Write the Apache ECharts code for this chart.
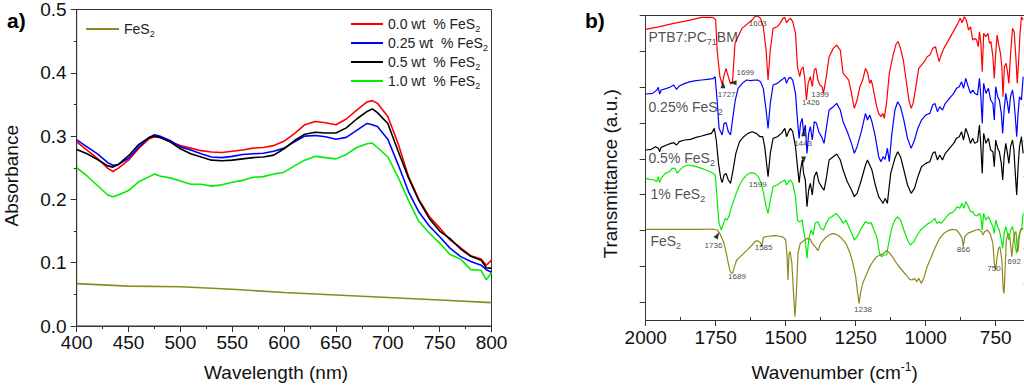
<!DOCTYPE html>
<html><head><meta charset="utf-8">
<script src="https://cdn.jsdelivr.net/npm/echarts@6/dist/echarts.min.js"></script>
<style>html,body{margin:0;padding:0;background:#fff}#c{width:1024px;height:387px}</style>
</head><body><div id="c"></div>
<script>
// ---------- Panel a) UV-vis absorbance ----------
const wavelength = [400,410,420,430,435,440,450,460,470,475,480,490,500,510,520,530,540,550,560,570,580,590,600,610,620,630,640,650,660,670,680,685,690,700,710,720,730,740,750,760,770,780,790,795,800];
const abs00 = [.291,.278,.265,.249,.244,.249,.262,.281,.296,.299,.298,.291,.285,.281,.277,.275,.274,.276,.278,.281,.282,.285,.292,.304,.318,.323,.321,.318,.327,.341,.354,.356,.352,.331,.288,.236,.200,.173,.155,.136,.124,.111,.106,.096,.104];
const abs025 = [.294,.283,.272,.258,.254,.255,.265,.283,.298,.302,.300,.293,.283,.278,.272,.267,.266,.268,.271,.272,.273,.276,.281,.291,.300,.301,.299,.295,.298,.309,.320,.318,.315,.295,.255,.212,.180,.158,.141,.123,.110,.102,.096,.089,.085];
const abs05 = [.279,.272,.263,.253,.251,.255,.269,.287,.298,.300,.298,.291,.280,.272,.267,.262,.261,.262,.264,.266,.267,.270,.280,.293,.303,.306,.305,.305,.313,.327,.339,.343,.337,.320,.276,.234,.198,.170,.150,.138,.122,.110,.104,.092,.091];
const abs10 = [.250,.237,.222,.207,.204,.207,.214,.228,.236,.240,.237,.234,.229,.224,.224,.221,.223,.227,.230,.235,.236,.240,.243,.253,.262,.268,.266,.264,.271,.282,.288,.289,.282,.267,.235,.198,.165,.147,.131,.113,.106,.089,.088,.073,.084];
const fes2Wavelength = [400,450,500,550,600,650,700,750,800];
const fes2Abs = [.067,.063,.062,.058,.053,.049,.045,.041,.037];
const absNames = ['0.0 wt  % FeS₂','0.25 wt  % FeS₂','0.5 wt  % FeS₂','1.0 wt  % FeS₂'];
const absColors = ['#ff0000','#0000ff','#000000','#00ee00'];
const fes2Name = 'FeS₂';
const fes2Color = '#8c8a1e';

// ---------- Panel b) FTIR transmittance (a.u., offset curves) : [wavenumber, T] ----------
const ftirPTB7 = [[2000,87.2],[1950,88.0],[1900,89.0],[1850,89.8],[1800,90.8],[1760,90.8],[1750,90.0],[1745,81.0],[1735,73.0],[1727,70.8],[1720,73.5],[1713,75.5],[1705,73.0],[1697,70.8],[1690,71.5],[1681,83.0],[1656,87.5],[1620,90.0],[1610,91.0],[1600,91.2],[1590,90.5],[1580,88.0],[1570,81.0],[1563,72.0],[1555,81.0],[1545,87.5],[1530,88.0],[1520,89.0],[1510,90.5],[1503,90.8],[1497,89.2],[1490,90.0],[1483,90.5],[1475,89.5],[1465,86.0],[1458,76.0],[1450,73.0],[1445,75.0],[1438,76.0],[1432,72.5],[1426,66.0],[1420,71.0],[1412,73.0],[1405,70.0],[1398,75.0],[1392,75.5],[1385,72.0],[1378,70.5],[1370,70.0],[1365,68.0],[1355,73.0],[1345,79.0],[1330,81.5],[1318,82.5],[1305,81.0],[1295,74.0],[1285,73.0],[1275,72.0],[1265,68.0],[1255,63.5],[1245,66.0],[1235,70.0],[1225,72.0],[1215,75.5],[1207,74.0],[1200,71.0],[1195,72.0],[1190,70.5],[1182,67.0],[1175,64.0],[1168,62.0],[1160,61.0],[1153,62.0],[1148,60.5],[1140,65.0],[1130,74.0],[1115,80.0],[1105,83.0],[1098,83.5],[1090,81.5],[1080,78.0],[1070,72.0],[1060,66.0],[1052,63.5],[1045,65.0],[1035,70.0],[1025,75.5],[1015,76.5],[1005,77.5],[995,79.0],[985,79.5],[975,81.5],[965,82.0],[958,79.5],[952,77.5],[945,79.5],[935,81.5],[925,83.0],[915,84.5],[905,86.0],[895,87.5],[885,89.0],[877,90.5],[870,89.2],[862,91.0],[855,90.0],[847,87.0],[840,88.0],[832,84.0],[825,84.5],[818,84.0],[812,82.0],[808,86.5],[803,83.0],[798,74.5],[793,86.0],[785,85.0],[778,86.0],[772,83.0],[767,83.5],[760,79.0],[755,72.5],[750,80.0],[745,85.5],[738,82.0],[733,80.0],[728,76.0],[724,67.0],[719,76.0],[713,77.0],[707,74.0],[703,71.0],[697,79.5],[690,87.5],[684,86.5],[678,79.0],[673,71.0],[668,78.0],[663,86.0],[658,91.0],[652,90.0]];
const ftir025 = [[2000,67.8],[1975,68.0],[1960,69.0],[1955,69.8],[1950,67.8],[1945,69.0],[1925,69.5],[1910,70.0],[1900,70.5],[1890,69.2],[1880,70.2],[1860,71.0],[1840,71.5],[1820,71.8],[1800,72.0],[1780,72.2],[1760,72.4],[1752,73.0],[1745,66.0],[1738,57.5],[1727,55.5],[1720,59.0],[1713,59.2],[1705,56.5],[1697,55.5],[1690,60.0],[1680,66.0],[1670,69.5],[1655,71.0],[1640,72.0],[1625,71.8],[1610,72.0],[1600,72.0],[1590,71.5],[1580,69.5],[1570,63.0],[1563,57.5],[1555,65.0],[1545,70.5],[1530,71.0],[1515,72.0],[1503,72.8],[1497,71.0],[1490,72.5],[1483,72.8],[1475,72.0],[1465,68.0],[1458,60.0],[1452,54.5],[1447,59.0],[1441,60.5],[1436,56.0],[1430,58.5],[1424,50.0],[1418,56.0],[1412,58.0],[1405,54.0],[1398,59.5],[1390,59.0],[1382,56.5],[1372,55.0],[1363,53.0],[1355,57.5],[1345,63.0],[1330,64.0],[1318,65.0],[1305,63.0],[1295,59.5],[1280,56.5],[1265,53.0],[1255,50.0],[1245,52.0],[1230,56.5],[1215,62.0],[1208,60.0],[1200,61.5],[1192,59.5],[1180,55.0],[1168,49.0],[1160,47.5],[1152,49.0],[1145,48.2],[1137,51.5],[1130,47.5],[1122,55.0],[1110,63.0],[1100,65.5],[1090,64.0],[1078,60.0],[1065,54.5],[1052,51.5],[1040,54.0],[1028,57.5],[1015,60.0],[1000,61.5],[985,62.0],[975,64.5],[967,65.0],[958,62.5],[950,64.0],[940,63.0],[930,65.0],[920,66.0],[910,67.0],[900,68.0],[890,69.5],[880,70.0],[872,71.5],[865,69.5],[857,72.5],[850,70.5],[840,68.0],[832,69.0],[825,68.0],[815,67.5],[808,72.5],[803,67.0],[798,59.0],[793,71.0],[785,68.0],[776,69.5],[768,66.0],[760,65.0],[755,60.0],[750,70.0],[743,67.0],[737,66.0],[730,62.0],[725,56.0],[720,63.0],[714,68.0],[708,65.0],[703,62.0],[697,67.0],[690,69.0],[685,66.0],[680,61.0],[675,55.0],[670,62.0],[665,67.0],[658,66.0],[652,73.0]];
const ftir05 = [[2000,51.0],[1980,51.2],[1965,52.0],[1955,51.5],[1950,50.5],[1945,51.8],[1925,52.5],[1910,53.0],[1900,53.2],[1890,52.5],[1880,53.5],[1860,54.0],[1840,54.2],[1820,54.8],[1800,55.2],[1780,55.7],[1765,56.0],[1755,57.5],[1748,54.0],[1740,47.0],[1732,42.5],[1727,41.2],[1720,43.5],[1713,44.0],[1705,42.0],[1697,41.0],[1688,45.0],[1678,50.0],[1665,53.5],[1650,55.0],[1635,56.0],[1620,56.5],[1605,56.0],[1592,55.0],[1582,55.0],[1575,52.0],[1563,43.0],[1555,50.0],[1545,54.5],[1530,55.0],[1515,56.0],[1503,57.5],[1497,55.0],[1490,56.5],[1483,57.5],[1475,56.5],[1465,52.0],[1458,46.0],[1452,41.2],[1447,45.0],[1441,48.0],[1436,44.0],[1430,42.0],[1424,34.0],[1418,39.0],[1412,41.0],[1405,37.5],[1398,43.0],[1390,44.5],[1382,41.5],[1372,40.0],[1363,39.0],[1355,42.5],[1345,48.0],[1330,49.0],[1318,49.8],[1305,48.0],[1295,45.0],[1280,41.5],[1265,39.0],[1255,37.0],[1245,38.0],[1230,42.0],[1215,46.5],[1208,48.0],[1200,46.5],[1192,45.0],[1180,40.5],[1168,37.0],[1160,36.0],[1152,35.0],[1145,36.5],[1137,35.0],[1125,44.0],[1110,48.5],[1100,50.5],[1090,49.0],[1078,45.0],[1065,40.5],[1052,38.0],[1040,39.5],[1028,43.0],[1015,46.0],[1000,47.0],[985,47.5],[975,50.0],[967,50.5],[958,48.0],[950,49.5],[940,48.0],[930,50.0],[920,51.0],[910,52.0],[900,53.0],[890,54.5],[880,55.0],[872,56.5],[865,54.0],[857,57.5],[850,56.0],[840,53.0],[832,54.5],[825,53.0],[815,53.5],[808,58.5],[803,52.0],[798,44.0],[793,56.0],[785,53.0],[776,54.5],[768,51.0],[760,50.5],[755,46.0],[750,54.0],[743,51.5],[737,50.5],[730,47.0],[725,42.0],[720,49.0],[714,53.0],[708,50.0],[703,47.0],[697,52.0],[690,54.0],[685,51.0],[680,44.0],[675,37.5],[670,46.0],[665,52.0],[658,55.0],[652,50.0]];
const ftir10 = [[2000,42.5],[1985,42.2],[1970,42.0],[1960,41.5],[1955,43.0],[1950,41.2],[1945,42.5],[1930,44.0],[1915,44.5],[1905,45.5],[1895,45.5],[1888,44.0],[1880,44.8],[1865,46.0],[1850,46.5],[1835,46.3],[1820,46.0],[1800,45.5],[1785,45.0],[1770,44.5],[1760,44.0],[1752,43.5],[1748,40.0],[1743,34.0],[1738,29.0],[1730,27.0],[1722,29.0],[1716,30.5],[1710,30.0],[1703,31.0],[1695,33.5],[1685,36.0],[1670,39.5],[1655,42.0],[1640,43.5],[1625,44.2],[1610,44.0],[1598,43.0],[1588,41.2],[1580,38.5],[1570,34.0],[1563,32.0],[1555,36.0],[1545,40.0],[1530,40.5],[1515,41.5],[1503,42.0],[1497,40.5],[1490,41.5],[1483,42.0],[1475,41.0],[1465,37.0],[1458,30.0],[1452,29.5],[1447,29.5],[1441,30.0],[1436,27.0],[1430,24.0],[1424,18.5],[1418,24.0],[1410,27.0],[1402,25.5],[1395,29.0],[1385,29.5],[1375,27.5],[1365,27.0],[1355,29.0],[1345,30.5],[1335,31.0],[1320,32.0],[1305,30.5],[1295,29.0],[1285,30.0],[1275,28.0],[1262,25.5],[1255,24.0],[1245,25.0],[1230,27.5],[1215,29.5],[1205,29.0],[1195,29.2],[1185,27.0],[1175,25.0],[1165,20.0],[1158,19.0],[1150,19.5],[1140,19.5],[1130,24.0],[1120,28.0],[1110,30.0],[1100,31.0],[1090,30.0],[1078,27.0],[1065,24.0],[1055,22.5],[1042,23.5],[1030,25.5],[1018,27.0],[1005,28.0],[990,29.0],[978,29.5],[968,30.5],[960,29.0],[952,29.5],[945,29.0],[935,30.0],[925,31.0],[915,32.0],[905,32.2],[895,33.0],[887,34.0],[878,33.5],[870,35.0],[864,33.5],[857,35.5],[850,34.5],[840,32.5],[832,32.5],[825,31.5],[815,31.2],[808,32.0],[803,31.0],[798,27.0],[793,32.0],[785,30.0],[776,31.0],[768,29.5],[760,28.0],[755,26.0],[750,30.0],[743,28.0],[737,27.0],[730,24.0],[725,21.5],[720,26.0],[714,28.0],[708,26.0],[703,24.0],[697,27.0],[690,28.0],[685,26.0],[680,22.0],[675,20.0],[670,24.0],[665,26.0],[658,27.0],[652,32.0]];
const ftirFeS2 = [[2000,27.2],[1900,27.2],[1800,27.2],[1760,27.3],[1745,27.0],[1738,26.3],[1730,25.0],[1720,23.0],[1712,20.0],[1705,17.0],[1698,14.5],[1690,14.0],[1683,16.0],[1675,18.0],[1665,18.8],[1650,20.0],[1635,21.2],[1620,22.5],[1610,23.5],[1600,23.8],[1590,23.2],[1585,22.0],[1580,24.8],[1570,25.0],[1555,25.2],[1540,25.3],[1525,25.2],[1515,25.0],[1508,24.8],[1500,24.0],[1495,19.0],[1492,12.0],[1488,20.0],[1484,20.5],[1478,17.0],[1472,8.0],[1467,1.0],[1462,8.0],[1456,20.0],[1448,23.0],[1440,23.5],[1430,24.2],[1420,24.5],[1412,24.2],[1405,23.0],[1395,22.0],[1385,20.8],[1375,23.0],[1360,24.5],[1345,25.5],[1330,26.0],[1315,25.5],[1300,24.5],[1285,23.0],[1270,20.0],[1260,17.0],[1250,13.0],[1243,8.0],[1238,5.0],[1233,8.0],[1225,11.0],[1215,13.0],[1200,16.0],[1185,18.0],[1175,19.0],[1162,19.5],[1150,20.0],[1140,20.8],[1128,20.0],[1115,18.5],[1100,16.5],[1085,15.0],[1070,13.5],[1058,12.2],[1048,12.0],[1040,12.5],[1032,11.5],[1025,12.5],[1015,11.0],[1005,13.0],[995,16.0],[980,19.0],[965,22.0],[950,24.5],[935,26.0],[920,26.8],[905,27.2],[890,27.0],[880,26.0],[870,24.5],[866,22.0],[860,25.0],[850,26.0],[835,26.5],[820,27.0],[810,27.2],[800,26.5],[795,25.5],[790,26.5],[780,27.0],[770,26.0],[760,23.0],[755,17.0],[750,15.0],[745,19.0],[740,21.5],[735,22.0],[728,18.0],[723,9.0],[720,8.0],[716,16.0],[712,24.0],[706,26.0],[700,25.0],[696,22.0],[692,19.0],[688,23.0],[683,26.0],[678,26.5],[673,22.0],[670,20.5],[667,24.0],[662,27.0],[655,27.5],[651,27.2]];
const ftirNames = ['PTB7:PC₇₁BM','0.25% FeS₂','0.5% FeS₂','1% FeS₂','FeS₂'];
const ftirColors = ['#ff0000','#0000ff','#000000','#00ee00','#8c8a1e'];
const ftirLabelPos = [[1992,84.9],[1992,63.9],[1992,48.6],[1985,37.8],[1985,23.7]];
const peakText = ['1603','1699','1727','1399','1426','1443','1599','1736','1585','1689','1238','866','750','692'];
const peakPos = [[1600,89.1],[1644,74.2],[1711,67.7],[1377,67.8],[1410,65.4],[1438,53.1],[1600,40.8],[1758,22.5],[1579,21.7],[1674,13.2],[1224,3.3],[865,21.2],[756,15.6],[684,17.7]];
// small black arrow heads pointing at the assigned peaks: [wavenumber, T, rotation deg]
const arrowPos = [[1724,70.6,0],[1688,71.2,90],[1744,25.4,-30],[1436,56.2,0],[1436,48.0,180]];
const wnMajorTicks = [2000,1750,1500,1250,1000,750];
const wnMinorTicks = [1875,1625,1375,1125,875];
const tMajorTicks = [5.4,16.1,26.8,37.6,48.3,59.1,69.8,80.5,91.3];
const tMinorTicks = [10.7,21.5,32.2,43.0,53.7,64.4,75.2,85.9];

// ---------- helpers ----------
const FONT = 'Liberation Sans, Arial, Helvetica, sans-serif';
const SUB = {'₀':'0','₁':'1','₂':'2','₇':'7'};
const SUP = {'⁻':'-','¹':'1'};
function toRich(s, base) {
  let out = '', buf = '', mode = base;
  const flush = () => { if (buf) out += '{' + mode + '|' + buf + '}'; buf = ''; };
  for (const ch of s) {
    const m = SUB[ch] ? 'sub' : (SUP[ch] ? 'sup' : base);
    const c = SUB[ch] || SUP[ch] || ch;
    if (m !== mode) { flush(); mode = m; }
    buf += c;
  }
  flush();
  return out;
}
const richSmall = {
  t: {fontSize: 14, fontFamily: FONT, color: '#222'},
  sub: {fontSize: 9, fontFamily: FONT, color: '#222', padding: [9, 0, 0, 0]}
};
const AX = '#333', TXT = '#111';

const chart = echarts.init(document.getElementById('c'), null, {renderer: 'svg'});
const series = [];
[abs00, abs025, abs05, abs10].forEach((arr, i) => {
  series.push({name: absNames[i], type: 'line', xAxisIndex: 0, yAxisIndex: 0,
    data: wavelength.map((w, k) => [w, arr[k]]), showSymbol: false, symbol: 'none',
    lineStyle: {width: 1.6, color: absColors[i]}, itemStyle: {color: absColors[i]}, z: 3 + (i === 2 ? 1 : 0)});
});
series.push({name: fes2Name, type: 'line', xAxisIndex: 0, yAxisIndex: 0,
  data: fes2Wavelength.map((w, k) => [w, fes2Abs[k]]), showSymbol: false, symbol: 'none',
  lineStyle: {width: 1.6, color: fes2Color}, itemStyle: {color: fes2Color}});
[ftirPTB7, ftir025, ftir05, ftir10, ftirFeS2].forEach((arr, i) => {
  series.push({name: 'FTIR ' + ftirNames[i], type: 'line', xAxisIndex: 1, yAxisIndex: 1,
    data: arr, showSymbol: false, symbol: 'none',
    lineStyle: {width: 1.2, color: ftirColors[i]}, itemStyle: {color: ftirColors[i]}});
});
series.push({type: 'scatter', xAxisIndex: 1, yAxisIndex: 1, silent: true, symbolSize: 1,
  itemStyle: {color: 'rgba(0,0,0,0)'},
  data: ftirNames.map((n, i) => ({name: n, value: ftirLabelPos[i]})),
  label: {show: true, position: 'right', distance: 0, formatter: p => toRich(p.name, 't'), rich: richSmall}, z: 10});
series.push({type: 'scatter', xAxisIndex: 1, yAxisIndex: 1, silent: true, symbolSize: 1,
  itemStyle: {color: 'rgba(0,0,0,0)'},
  data: peakText.map((n, i) => ({name: n, value: peakPos[i]})),
  label: {show: true, position: 'inside', formatter: p => p.name, fontSize: 8, fontFamily: FONT, color: '#111'}, z: 10});
series.push({type: 'scatter', xAxisIndex: 1, yAxisIndex: 1, silent: true, symbol: 'triangle', symbolSize: [5, 7],
  itemStyle: {color: '#000'},
  data: arrowPos.map(a => ({value: [a[0], a[1]], symbolRotate: a[2]})), z: 11});

const option = {
  animation: false,
  backgroundColor: '#fff',
  textStyle: {fontFamily: FONT},
  title: [
    {text: 'a)', left: 2, top: 5, textStyle: {fontSize: 21, fontWeight: 'bold', color: '#000', fontFamily: FONT}},
    {text: 'b)', left: 580, top: 5, textStyle: {fontSize: 21, fontWeight: 'bold', color: '#000', fontFamily: FONT}}
  ],
  legend: [
    {data: absNames, orient: 'vertical', left: 346, top: 12, itemWidth: 32, itemHeight: 2, icon: 'rect', itemGap: 3,
     formatter: n => toRich(n, 't'), textStyle: {rich: richSmall}, selectedMode: false},
    {data: [fes2Name], orient: 'vertical', left: 81, top: 17, itemWidth: 33, itemHeight: 2, icon: 'rect',
     formatter: n => toRich(n, 't'), textStyle: {rich: richSmall}, selectedMode: false}
  ],
  grid: [
    {left: 76.7, top: 9, width: 414.8, height: 317.7, show: true, borderColor: AX, borderWidth: 1, containLabel: false},
    {left: 645.7, top: 15.7, width: 378, height: 304.3, containLabel: false}
  ],
  xAxis: [
    {gridIndex: 0, type: 'value', min: 400, max: 800, interval: 50,
     axisLine: {show: true, lineStyle: {color: AX}}, axisTick: {show: true, inside: false, length: 6, lineStyle: {color: AX}},
     minorTick: {show: true, splitNumber: 2, length: 3, lineStyle: {color: AX}},
     splitLine: {show: false}, minorSplitLine: {show: false},
     axisLabel: {fontSize: 19, color: TXT, margin: 7, fontFamily: FONT, formatter: v => String(v)},
     name: 'Wavelength (nm)', nameLocation: 'middle', nameGap: 37,
     nameTextStyle: {fontSize: 19, color: TXT, fontFamily: FONT, padding: [0, 16, 0, 0]}},
    {gridIndex: 1, type: 'value', min: 650, max: 2000, inverse: true,
     axisLine: {show: true, onZero: false, lineStyle: {color: AX}},
     axisTick: {show: true, inside: false, length: 6, customValues: wnMajorTicks, lineStyle: {color: AX}},
     splitLine: {show: false},
     axisLabel: {fontSize: 19, color: TXT, margin: 8, fontFamily: FONT, customValues: wnMajorTicks, formatter: v => String(v)},
     name: toRich('Wavenumber (cm⁻¹)', 'n'), nameLocation: 'middle', nameGap: 41,
     nameTextStyle: {fontSize: 19, color: TXT, fontFamily: FONT,
       rich: {n: {fontSize: 19, color: TXT, fontFamily: FONT}, sup: {fontSize: 12, color: TXT, fontFamily: FONT, padding: [0, 0, 11, 0]}}}},
    {gridIndex: 1, type: 'value', min: 650, max: 2000, inverse: true,
     axisLine: {show: false}, splitLine: {show: false}, axisLabel: {show: false},
     axisTick: {show: true, inside: false, length: 3, customValues: wnMinorTicks, lineStyle: {color: AX}}},
    {gridIndex: 1, type: 'value', min: 650, max: 2000, inverse: true, position: 'top',
     axisLine: {show: true, onZero: false, lineStyle: {color: AX}}, splitLine: {show: false}, axisLabel: {show: false}, axisTick: {show: false}}
  ],
  yAxis: [
    {gridIndex: 0, type: 'value', min: 0, max: 0.5, interval: 0.1,
     axisLine: {show: true, lineStyle: {color: AX}}, axisTick: {show: true, inside: false, length: 6, lineStyle: {color: AX}},
     minorTick: {show: true, splitNumber: 2, length: 3, lineStyle: {color: AX}},
     splitLine: {show: false}, minorSplitLine: {show: false},
     axisLabel: {fontSize: 19, color: TXT, margin: 10, fontFamily: FONT, formatter: v => v.toFixed(1)},
     name: 'Absorbance', nameLocation: 'middle', nameGap: 56,
     nameTextStyle: {fontSize: 19, color: TXT, fontFamily: FONT, padding: [0, 16, 0, 0]}},
    {gridIndex: 1, type: 'value', min: 0, max: 91.3,
     axisLine: {show: true, onZero: false, lineStyle: {color: AX}},
     axisTick: {show: true, inside: false, length: 6, customValues: tMajorTicks, lineStyle: {color: AX}},
     splitLine: {show: false}, axisLabel: {show: false},
     name: 'Transmittance (a.u.)', nameLocation: 'middle', nameGap: 26,
     nameTextStyle: {fontSize: 19, color: TXT, fontFamily: FONT, padding: [0, 12, 0, 0]}},
    {gridIndex: 1, type: 'value', min: 0, max: 91.3,
     axisLine: {show: false}, splitLine: {show: false}, axisLabel: {show: false},
     axisTick: {show: true, inside: false, length: 3, customValues: tMinorTicks, lineStyle: {color: AX}}}
  ],
  series: series
};
chart.setOption(option);
</script>
</body></html>
